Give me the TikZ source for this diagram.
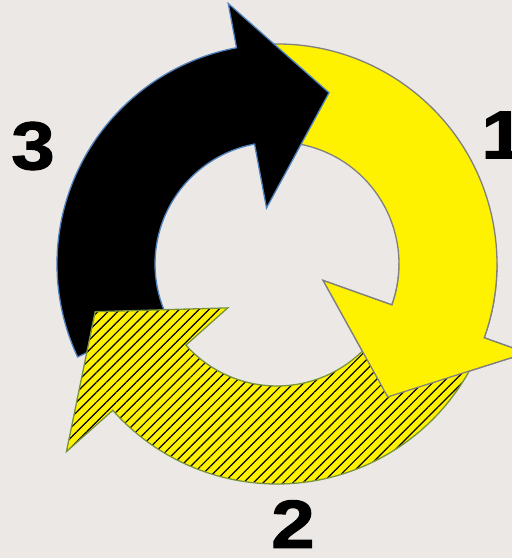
\documentclass[tikz,border=0pt]{standalone}
\usepackage{fontspec}
\setmainfont{Liberation Sans}
\newfontfamily\numfont[FakeBold=1.5]{Liberation Sans Bold}
\usetikzlibrary{patterns.meta}

\definecolor{paper}{RGB}{236,232,229}
\definecolor{rimblue}{RGB}{79,129,189}
\definecolor{rimgray}{RGB}{128,128,128}
\definecolor{rimgreen}{RGB}{119,147,60}

% one bent arrow of the ring (centre at origin):
% #1 tail angle, #2 head base angle, #3 tip angle, #4 tip radius,
% #5 inner barb radius, #6 outer barb radius
\newcommand{\ringarrow}[6]{%
  (#1:\rout) arc[start angle=#1, end angle=#2, radius=\rout]
  -- (#2:#6) -- (#3:#4) -- (#2:#5) -- (#2:\rin)
  arc[start angle=#2, end angle=#1, radius=\rin] -- cycle}

\begin{document}
\begin{tikzpicture}[x=1pt, y=1pt,
    blackarrow/.style={fill=black, draw=rimblue, line width=1.3pt, line join=miter},
    yellowarrow/.style={fill=yellow, draw=rimgray, line width=1.3pt, line join=miter},
    hatcharrow/.style={preaction={fill=yellow},
      pattern={Lines[angle=45, distance=7pt, line width=1.2pt]}, pattern color=black,
      draw=rimgreen, line width=1.3pt, line join=miter},
    digit/.style={inner sep=0pt, font=\numfont\fontsize{68}{68}\selectfont}]
  \useasboundingbox (0,0) rectangle (512,558);
  \clip (0,0) rectangle (512,558);
  \fill[paper] (0,0) rectangle (512,558);

  \def\rin{122}
  \def\rout{220}
  \begin{scope}[shift={(277,294)}]
    % 1: yellow, right side
    \path[yellowarrow] \ringarrow{96}{-19.6}{-50.2}{173}{49}{265};
    % 3: black, left side, head over the tail of 1
    \path[blackarrow] \ringarrow{205}{100.6}{73.1}{179}{57}{265};
    % 2: hatched, bottom, head over the tail of 3
    \path[hatcharrow] \ringarrow{-25}{-138.3}{-165.3}{188}{66}{282};
    % head of 1 again, over the tail of 2
    \begin{scope}
      \clip (0,0) rectangle (300,-300);
      \path[yellowarrow] \ringarrow{96}{-19.6}{-50.2}{173}{49}{265};
    \end{scope}
  \end{scope}

  % numbers
  \node[digit] (one) at (503,423) {\scalebox{1.15}[1]{1}};
  \node[digit] (two) at (293,34) {\scalebox{1.15}[1]{2}};
  \node[digit] (three) at (33,412) {\scalebox{1.15}[1]{3}};
\end{tikzpicture}
\end{document}
